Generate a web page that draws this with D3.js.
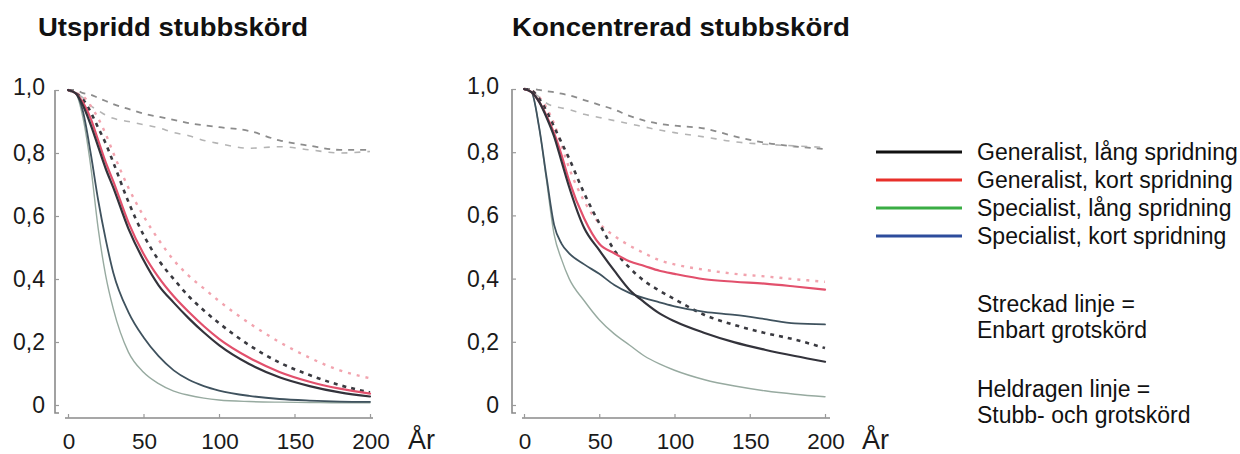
<!DOCTYPE html>
<html><head><meta charset="utf-8">
<script src="https://cdn.jsdelivr.net/npm/d3@7/dist/d3.min.js"></script>
<style>
html,body{margin:0;padding:0;background:#fff;}
svg{display:block;font-family:"Liberation Sans",Arial,Helvetica,sans-serif;}
</style></head>
<body><svg id="c" width="1240" height="454"></svg>
<script>
// ---- data ----
const years = [0,5,10,15,20,25,30,40,50,60,70,80,90,100,120,140,160,180,200];
const yTicks = [0,0.2,0.4,0.6,0.8,1.0];
const yTickLabels = ["0","0,2","0,4","0,6","0,8","1,0"];
const xTicks = [0,50,100,150,200];
const xTickLabels = ["0","50","100","150","200"];
const chartTitles = ["Utspridd stubbskörd","Koncentrerad stubbskörd"];
const seriesNames = ["Generalist, lång spridning","Generalist, kort spridning","Specialist, lång spridning","Specialist, kort spridning"];
const legendNotes = [["Streckad linje =","Enbart grotskörd"],["Heldragen linje =","Stubb- och grotskörd"]];

// Utspridd stubbskörd
const utGenLangSolid  = [1.0,0.99,0.95,0.89,0.82,0.75,0.69,0.56,0.46,0.38,0.325,0.275,0.23,0.19,0.13,0.088,0.06,0.04,0.027];
const utGenKortSolid  = [1.0,0.99,0.96,0.91,0.84,0.77,0.71,0.58,0.48,0.405,0.345,0.295,0.25,0.21,0.15,0.105,0.074,0.052,0.036];
const utSpecLangSolid = [1.0,0.99,0.91,0.76,0.56,0.41,0.305,0.168,0.104,0.068,0.044,0.031,0.022,0.016,0.011,0.009,0.008,0.007,0.007];
const utSpecKortSolid = [1.0,0.99,0.93,0.80,0.65,0.525,0.42,0.295,0.215,0.155,0.11,0.08,0.06,0.046,0.029,0.019,0.014,0.011,0.01];
const utGenLangDash   = [1.0,0.99,0.97,0.93,0.88,0.83,0.77,0.645,0.54,0.46,0.40,0.345,0.30,0.26,0.19,0.135,0.095,0.063,0.04];
const utGenKortDash   = [1.0,0.99,0.98,0.95,0.91,0.86,0.80,0.69,0.60,0.525,0.46,0.41,0.37,0.33,0.26,0.20,0.15,0.11,0.085];
const utSpecLangDash  = [1.0,1.0,0.99,0.985,0.975,0.965,0.955,0.94,0.925,0.915,0.905,0.895,0.888,0.882,0.87,0.84,0.823,0.81,0.81];
const utSpecKortDash  = [1.0,0.99,0.975,0.95,0.935,0.92,0.91,0.90,0.89,0.88,0.865,0.855,0.84,0.83,0.815,0.82,0.81,0.80,0.805];

// Koncentrerad stubbskörd
const koGenLangSolid  = [1.0,0.99,0.96,0.91,0.85,0.77,0.69,0.56,0.49,0.425,0.365,0.325,0.29,0.265,0.228,0.198,0.175,0.155,0.137];
const koGenKortSolid  = [1.0,0.99,0.96,0.915,0.86,0.79,0.71,0.59,0.51,0.48,0.455,0.44,0.425,0.415,0.398,0.39,0.384,0.375,0.365];
const koSpecLangSolid = [1.0,0.99,0.88,0.71,0.54,0.46,0.40,0.33,0.27,0.225,0.19,0.155,0.13,0.11,0.08,0.06,0.045,0.034,0.026];
const koSpecKortSolid = [1.0,0.99,0.88,0.72,0.57,0.51,0.48,0.445,0.415,0.38,0.355,0.338,0.325,0.312,0.295,0.285,0.272,0.258,0.255];
const koGenLangDash   = [1.0,0.995,0.97,0.93,0.88,0.83,0.78,0.67,0.575,0.49,0.435,0.392,0.362,0.335,0.285,0.253,0.228,0.207,0.18];
const koGenKortDash   = [1.0,0.995,0.975,0.94,0.89,0.82,0.75,0.645,0.575,0.535,0.505,0.48,0.458,0.445,0.428,0.415,0.407,0.398,0.39];
const koSpecLangDash  = [1.0,1.0,0.997,0.993,0.99,0.985,0.98,0.965,0.95,0.935,0.915,0.90,0.89,0.884,0.875,0.85,0.83,0.818,0.81];
const koSpecKortDash  = [1.0,0.99,0.975,0.955,0.945,0.94,0.935,0.92,0.91,0.90,0.89,0.88,0.87,0.862,0.848,0.833,0.825,0.82,0.815];

// ---- styles ----
const legendColors = ["#111111","#e8302a","#3aad44","#2d4c9c"];
const styles = {
  genLangSolid:  {stroke:"#33333b", w:2.2, dash:null},
  genKortSolid:  {stroke:"#e2506c", w:2.2, dash:null},
  specLangSolid: {stroke:"#97aaa0", w:1.4, dash:null},
  specKortSolid: {stroke:"#3f525e", w:1.8, dash:null},
  genLangDash:   {stroke:"#3a3a40", w:2.6, dash:"4,5"},
  genKortDash:   {stroke:"#f2a3ae", w:2.4, dash:"3,6"},
  specLangDash:  {stroke:"#8c8c8c", w:1.8, dash:"6,6"},
  specKortDash:  {stroke:"#b4b4b4", w:1.6, dash:"6,7"}
};

const charts = [
  {title:chartTitles[0], tx:38, tw:270, x0:68, x1:370, yTop:90, yBot:405, axX:55, axisY:418, axL:65, axR:373, labR:45, ar:408,
   series:[["specLangDash",utSpecLangDash],["specKortDash",utSpecKortDash],["genKortDash",utGenKortDash],["genLangDash",utGenLangDash],
           ["specLangSolid",utSpecLangSolid],["specKortSolid",utSpecKortSolid],["genKortSolid",utGenKortSolid],["genLangSolid",utGenLangSolid]]},
  {title:chartTitles[1], tx:512, tw:338, x0:524, x1:825, yTop:89, yBot:405, axX:512, axisY:418, axL:522, axR:830, labR:499, ar:862,
   series:[["specLangDash",koSpecLangDash],["specKortDash",koSpecKortDash],["genKortDash",koGenKortDash],["genLangDash",koGenLangDash],
           ["specLangSolid",koSpecLangSolid],["specKortSolid",koSpecKortSolid],["genKortSolid",koGenKortSolid],["genLangSolid",koGenLangSolid]]}
];

const svg = d3.select("#c");

charts.forEach(c => {
  const g = svg.append("g");
  const x = d3.scaleLinear().domain([0,200]).range([c.x0,c.x1]);
  const y = d3.scaleLinear().domain([0,1]).range([c.yBot,c.yTop]);

  g.append("text").attr("x",c.tx).attr("y",35.5).attr("font-size",25.5).attr("font-weight","bold").attr("fill","#111")
    .attr("textLength",c.tw).attr("lengthAdjust","spacingAndGlyphs").text(c.title);

  // y axis
  const ya = g.append("g").attr("transform",`translate(${c.axX},0)`)
    .call(d3.axisRight(y).tickValues(yTicks).tickSize(4).tickFormat(""));
  ya.select(".domain").attr("stroke","#8a8a8a").attr("stroke-width",1.6).attr("d",`M0,${c.yTop}V${c.yBot+8}h4`);
  ya.selectAll(".tick line").attr("stroke","#9a9a9a").attr("stroke-width",1.2);
  yTicks.forEach((t,i)=>{
    g.append("text").attr("x",c.labR).attr("y",y(t)+8 - (t===1?3:0)).attr("text-anchor","end").attr("font-size",23).attr("fill","#1a1a1a").text(yTickLabels[i]);
  });

  // x axis
  const xa = g.append("g").attr("transform",`translate(0,${c.axisY})`)
    .call(d3.axisTop(x).tickValues(xTicks).tickSize(4).tickFormat(""));
  xa.select(".domain").attr("stroke","#8a8a8a").attr("stroke-width",1.6).attr("d",`M${c.axL},0H${c.axR}`);
  xa.selectAll(".tick line").attr("stroke","#9a9a9a").attr("stroke-width",1.2);
  xTicks.forEach((t,i)=>{
    g.append("text").attr("x",x(t)+1).attr("y",449).attr("text-anchor","middle").attr("font-size",22.5).attr("fill","#1a1a1a").text(xTickLabels[i]);
  });
  g.append("text").attr("x",c.ar).attr("y",449).attr("font-size",27).attr("fill","#1a1a1a").text("År");

  const line = d3.line().x((d,i)=>x(years[i])).y(d=>y(d)).curve(d3.curveMonotoneX);
  c.series.forEach(([k,vals])=>{
    const s = styles[k];
    g.append("path").attr("d",line(vals)).attr("fill","none").attr("stroke",s.stroke)
      .attr("stroke-width",s.w).attr("stroke-dasharray",s.dash).attr("stroke-linecap", s.dash ? "butt":"round");
  });
});

// legend
const lg = svg.append("g");
seriesNames.forEach((n,i)=>{
  const yy = 152 + i*28;
  lg.append("line").attr("x1",876).attr("x2",962).attr("y1",yy).attr("y2",yy).attr("stroke",legendColors[i]).attr("stroke-width",3);
  lg.append("text").attr("x",977).attr("y",yy+8).attr("font-size",23).attr("fill","#111").text(n);
});
legendNotes.forEach((pair,j)=>{
  pair.forEach((t,k)=>{
    lg.append("text").attr("x",977).attr("y",312 + j*85 + k*26).attr("font-size",23).attr("fill","#111").text(t);
  });
});
</script></body></html>
